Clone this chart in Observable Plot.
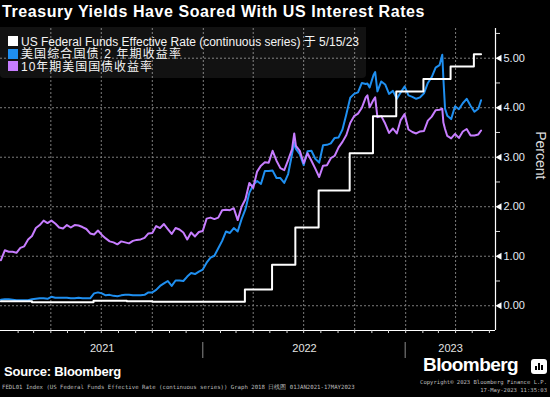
<!DOCTYPE html>
<html><head><meta charset="utf-8">
<script src="https://cdn.jsdelivr.net/npm/d3@7"></script>
<script src="https://cdn.jsdelivr.net/npm/@observablehq/plot@0.6"></script>
<style>
html,body{margin:0;padding:0;background:#000;}
body{width:550px;height:397px;position:relative;overflow:hidden;font-family:"Liberation Sans","Noto Sans CJK SC",sans-serif;color:#fff;}
#title{position:absolute;left:2px;top:3px;font-weight:bold;font-size:16px;white-space:nowrap;color:#fff;}
#chart{position:absolute;left:0;top:26px;}
#legend{position:absolute;left:0;top:27px;width:366px;height:51px;background:rgba(255,255,255,0.07);border-radius:0 0 4px 4px;}
.sw{position:absolute;left:8px;width:10px;height:10px;}
.lt{position:absolute;left:21px;font-size:12px;line-height:12px;height:12px;white-space:nowrap;color:#f4f4f4;font-family:"Liberation Sans","Noto Sans CJK SC",sans-serif;}
#source{position:absolute;left:4px;top:364px;font-weight:bold;font-size:13px;white-space:nowrap;}
#foot{position:absolute;left:2px;top:383px;font-size:6.5px;line-height:8px;white-space:nowrap;color:#bdbdbd;font-family:"DejaVu Sans Mono",monospace;}
#copy{position:absolute;right:3px;top:379px;font-size:6.5px;line-height:7.5px;text-align:right;white-space:nowrap;color:#bdbdbd;font-family:"DejaVu Sans Mono",monospace;}
#brand{position:absolute;left:423px;top:354px;font-weight:bold;font-size:19px;white-space:nowrap;color:#fff;}
#icon{position:absolute;left:531px;top:359px;width:16px;height:15px;background:#fff;border-radius:3px;}
#icon span{position:absolute;bottom:4px;width:2px;background:#000;}
</style></head>
<body>
<div id="chart"></div>
<div id="title"></div>
<div id="legend"></div>
<div id="source">Source: Bloomberg</div>
<div id="foot"></div>
<div id="copy"></div>
<div id="brand">Bloomberg</div>
<div id="icon"><span style="left:4px;height:4px"></span><span style="left:7px;height:7px"></span><span style="left:10px;height:5px"></span></div>
<script>
// ---------------- data ----------------
const titleText = "Treasury Yields Have Soared With US Interest Rates";
const seriesNames = ["US Federal Funds Effective Rate (continuous series)  于 5/15/23", "美国综合国债 2 年期收益率", "10年期美国国债收益率"];
const seriesColors = ["#ffffff", "#1f8ff0", "#c77dff"];

const dates = [
"2021-01-01","2021-01-08","2021-01-15","2021-01-22","2021-01-29","2021-02-05","2021-02-12","2021-02-19","2021-02-26","2021-03-05",
"2021-03-12","2021-03-19","2021-03-26","2021-04-02","2021-04-09","2021-04-16","2021-04-23","2021-04-30","2021-05-07","2021-05-14",
"2021-05-21","2021-05-28","2021-06-04","2021-06-11","2021-06-18","2021-06-25","2021-07-02","2021-07-09","2021-07-16","2021-07-23",
"2021-07-30","2021-08-06","2021-08-13","2021-08-20","2021-08-27","2021-09-03","2021-09-10","2021-09-17","2021-09-24","2021-10-01",
"2021-10-08","2021-10-15","2021-10-22","2021-10-29","2021-11-05","2021-11-12","2021-11-19","2021-11-26","2021-12-03","2021-12-10",
"2021-12-17","2021-12-24","2021-12-31",
"2022-01-07","2022-01-14","2022-01-21","2022-01-28","2022-02-04","2022-02-11","2022-02-18","2022-02-25","2022-03-04","2022-03-11",
"2022-03-18","2022-03-25","2022-04-01","2022-04-08","2022-04-15","2022-04-22","2022-04-29","2022-05-06","2022-05-13","2022-05-20",
"2022-05-27","2022-06-03","2022-06-10","2022-06-14","2022-06-17","2022-06-24","2022-07-01","2022-07-08","2022-07-15","2022-07-22",
"2022-07-29","2022-08-05","2022-08-12","2022-08-19","2022-08-26","2022-09-02","2022-09-09","2022-09-16","2022-09-23","2022-09-30",
"2022-10-07","2022-10-14","2022-10-21","2022-10-24","2022-10-28","2022-11-04","2022-11-07","2022-11-11","2022-11-18","2022-11-25",
"2022-12-02","2022-12-09","2022-12-16","2022-12-23","2022-12-30",
"2023-01-06","2023-01-13","2023-01-20","2023-01-27","2023-02-03","2023-02-10","2023-02-17","2023-02-24","2023-03-03","2023-03-08",
"2023-03-10","2023-03-13","2023-03-17","2023-03-24","2023-03-31","2023-04-07","2023-04-14","2023-04-21","2023-04-28","2023-05-05",
"2023-05-12","2023-05-17"];

const yield10y = [
0.92,1.12,1.09,1.09,1.07,1.17,1.20,1.34,1.41,1.57,
1.63,1.72,1.67,1.72,1.66,1.58,1.56,1.63,1.58,1.63,
1.62,1.59,1.55,1.46,1.44,1.52,1.43,1.36,1.30,1.28,
1.24,1.30,1.28,1.26,1.31,1.33,1.34,1.37,1.46,1.47,
1.61,1.57,1.65,1.55,1.45,1.57,1.54,1.48,1.34,1.48,
1.40,1.49,1.51,
1.76,1.78,1.75,1.78,1.93,1.94,1.93,1.97,1.73,2.00,
2.15,2.48,2.38,2.71,2.83,2.90,2.89,3.13,2.93,2.78,
2.74,2.94,3.16,3.48,3.23,3.13,2.88,3.08,2.93,2.77,
2.60,2.83,2.84,2.98,3.03,3.20,3.31,3.45,3.69,3.83,
3.88,4.00,4.21,4.25,4.01,4.16,4.21,3.81,3.83,3.68,
3.49,3.58,3.48,3.75,3.87,
3.56,3.51,3.48,3.52,3.53,3.74,3.82,3.95,3.96,3.98,
3.70,3.57,3.43,3.38,3.47,3.39,3.52,3.57,3.44,3.44,
3.46,3.54];

const yield2y = [
0.12,0.13,0.13,0.12,0.11,0.11,0.11,0.11,0.13,0.14,
0.15,0.15,0.14,0.18,0.16,0.16,0.16,0.16,0.15,0.15,
0.16,0.15,0.15,0.15,0.25,0.27,0.25,0.21,0.22,0.20,
0.19,0.21,0.22,0.22,0.21,0.21,0.21,0.22,0.27,0.27,
0.32,0.40,0.45,0.50,0.40,0.51,0.51,0.50,0.59,0.66,
0.64,0.69,0.73,
0.87,0.97,1.01,1.16,1.31,1.50,1.47,1.57,1.50,1.75,
1.95,2.28,2.44,2.52,2.46,2.72,2.72,2.73,2.58,2.58,
2.48,2.66,3.06,3.30,3.17,3.06,2.84,3.12,3.13,2.97,
2.89,3.24,3.25,3.28,3.39,3.40,3.56,3.87,4.20,4.28,
4.31,4.50,4.48,4.49,4.41,4.66,4.72,4.33,4.53,4.47,
4.28,4.34,4.18,4.31,4.43,
4.25,4.22,4.18,4.21,4.29,4.50,4.62,4.81,4.86,5.07,
4.59,3.98,3.84,3.77,4.03,3.97,4.09,4.18,4.04,3.92,
3.98,4.15];

const fedDates = ["2021-01-01","2021-02-26","2021-06-17","2021-08-16","2021-10-01","2022-03-17","2022-05-05","2022-06-16",
"2022-07-28","2022-09-22","2022-11-03","2022-12-15","2023-02-02","2023-03-23","2023-05-04","2023-05-17"];
const fedRate = [0.09,0.07,0.10,0.09,0.08,0.33,0.83,1.58,2.33,3.08,3.83,4.33,4.58,4.83,5.08,5.08];

const yTicks = [0,1,2,3,4,5];
const yMinor = [0.5,1.5,2.5,3.5,4.5,5.5];
const yearLabels = ["2021","2022","2023"];
const yAxisLabel = "Percent";
const sourceText = "Source: Bloomberg";
const footText = "FEDL01 Index (US Federal Funds Effective Rate (continuous series)) Graph 2018  日线图 01JAN2021-17MAY2023";
const copyLines = ["Copyright© 2023 Bloomberg Finance L.P.", "17-May-2023 11:35:03"];

// ---------------- build ----------------
const d2 = dates.map((d,i)=>({date:new Date(d), v:yield2y[i]}));
const d10 = dates.map((d,i)=>({date:new Date(d), v:yield10y[i]}));
const dFed = fedDates.map((d,i)=>({date:new Date(d), v:fedRate[i]}));

const xStart = new Date("2020-12-31T05:00:00Z");
const xEnd = new Date("2023-06-12T00:00:00Z");
const yMin = -0.5, yMax = 5.6;
const gridColor = "#7c7c7c";
const quarters = d3.utcMonth.every(3).range(new Date("2021-02-01"), xEnd);
const months = d3.utcMonth.range(new Date("2021-01-02"), xEnd);
const yearMarks = yearLabels.map(y => {
  const a = new Date(`${y}-01-01`), b = new Date(`${+y+1}-01-01`);
  const s = a < xStart ? xStart : a, e = b > xEnd ? xEnd : b;
  return {label: y, mid: new Date((+s + +e)/2), start: a};
});

const chart = Plot.plot({
  width: 550, height: 340,
  marginTop: 2, marginBottom: 36, marginLeft: 0, marginRight: 55,
  style: {background: "transparent", color: "#e0e0e0", fontFamily: "Liberation Sans, sans-serif", overflow: "visible"},
  x: {type: "utc", domain: [xStart, xEnd], axis: null},
  y: {domain: [yMin, yMax], axis: null},
  marks: [
    Plot.ruleY(yTicks, {stroke: gridColor, strokeDasharray: "2,2"}),
    Plot.ruleX(quarters, {stroke: gridColor, strokeDasharray: "2,2"}),
    Plot.line(d2, {x: "date", y: "v", stroke: seriesColors[1], strokeWidth: 2}),
    Plot.line(d10, {x: "date", y: "v", stroke: seriesColors[2], strokeWidth: 2}),
    Plot.line(dFed, {x: "date", y: "v", curve: "step-after", stroke: seriesColors[0], strokeWidth: 2}),
    Plot.ruleX([xEnd], {stroke: "#fff", strokeWidth: 1.2}),
    Plot.ruleY([yMin], {stroke: "#fff", strokeWidth: 1.2}),
    Plot.axisX({ticks: months, tickSize: 3, tickFormat: () => "", stroke: "#ddd", label: null}),
    Plot.axisY({anchor: "right", ticks: yMinor, tickSize: 4, tickFormat: () => "", stroke: "#ddd", label: null}),
    Plot.dot(yTicks, {x: () => xEnd, y: d => d, symbol: "triangle", r: 2.6, rotate: -90, dx: 4, fill: "#fff", stroke: null}),
    Plot.text(yTicks, {x: () => xEnd, y: d => d, text: d => d.toFixed(2), dx: 8, textAnchor: "start", fontSize: 11, fill: "#e4ebf5"}),
    Plot.text([yAxisLabel], {frameAnchor: "right", dx: 45, rotate: 90, fontSize: 14, fill: "#dcdcdc"}),
    Plot.text(yearMarks, {x: "mid", text: "label", frameAnchor: "bottom", dy: 21, fontSize: 11, fill: "#e4e4e4"})
  ]
});
document.getElementById("chart").append(chart);

// year separators below the axis, placed with the plot's own x scale
const sx = chart.scale("x");
const svg = d3.select(chart);
yearMarks.forEach(m => {
  const x = sx.apply(m.start);
  if (x < 5 || x > 490) return;
  svg.append("line").attr("x1", x).attr("x2", x).attr("y1", 316).attr("y2", 332)
    .attr("stroke", "#8a8a8a").attr("stroke-width", 1);
});

// texts
const title = document.getElementById("title");
title.textContent = titleText;
const legend = document.getElementById("legend");
const rowTop = [9, 21.5, 34];
const rowWidth = [338, 161, 132];
seriesNames.forEach((n, i) => {
  const s = document.createElement("div"); s.className = "sw";
  s.style.top = rowTop[i] + "px"; s.style.background = seriesColors[i];
  legend.append(s);
  const t = document.createElement("div"); t.className = "lt";
  t.style.top = (rowTop[i] - 0.5) + "px"; t.textContent = n;
  legend.append(t);
});
document.getElementById("foot").textContent = footText;
document.getElementById("copy").innerHTML = copyLines.join("<br>");

function fitSpacing(el, target) {
  const w = el.getBoundingClientRect().width;
  const n = el.textContent.length;
  el.style.letterSpacing = ((target - w) / n) + "px";
}
function fitSize(el, target) {
  const w = el.getBoundingClientRect().width;
  const fs = parseFloat(getComputedStyle(el).fontSize);
  el.style.fontSize = (fs * target / w) + "px";
}
fitSpacing(title, 423);
legend.querySelectorAll(".lt").forEach((el, i) => fitSpacing(el, rowWidth[i]));
fitSize(document.getElementById("foot"), 354);
fitSize(document.getElementById("copy"), 127);
fitSpacing(document.getElementById("source"), 117);
fitSpacing(document.getElementById("brand"), 95);
</script>
</body></html>
